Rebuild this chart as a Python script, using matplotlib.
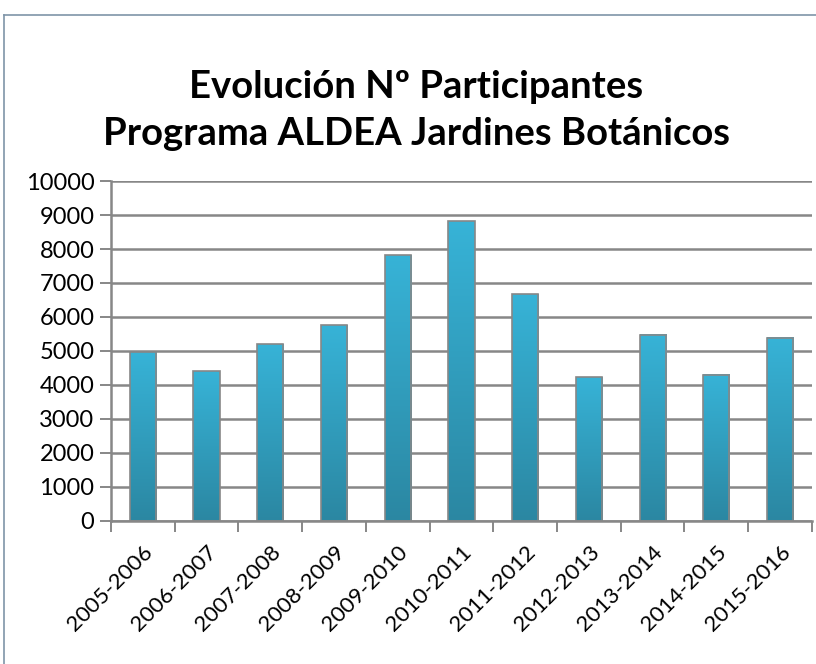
import matplotlib
matplotlib.use("Agg")
import matplotlib.pyplot as plt
import numpy as np
from matplotlib.colors import LinearSegmentedColormap
from matplotlib.lines import Line2D

plt.rcParams["font.family"] = ["Lato", "DejaVu Sans"]

seasons = ["2005-2006", "2006-2007", "2007-2008", "2008-2009", "2009-2010", "2010-2011",
           "2011-2012", "2012-2013", "2013-2014", "2014-2015", "2015-2016"]
participants = [4960, 4400, 5200, 5760, 7810, 8810, 6670, 4230, 5480, 4300, 5390]
y_ticks = list(range(0, 10001, 1000))

GRID = "#878787"
cmap = LinearSegmentedColormap.from_list("bar", ["#2b87a2", "#37b3d7"])

fig = plt.figure(figsize=(8.16, 6.64), dpi=100)
ax = fig.add_axes([0.136, 0.2154, 0.859, 0.512])

x = np.arange(len(seasons))
bars = ax.bar(x, participants, width=0.41, color="none", edgecolor=GRID, linewidth=1.2, zorder=3)

# vertical gradient for each bar
grad = np.linspace(0, 1, 256).reshape(-1, 1)
for b in bars:
    x0, w, h = b.get_x(), b.get_width(), b.get_height()
    ax.imshow(grad, cmap=cmap, aspect="auto", origin="lower",
              extent=[x0, x0 + w, 0, h], zorder=2)

ax.set_xlim(-0.5, len(seasons) - 0.5)
ax.set_ylim(0, 10000)
ax.set_yticks(y_ticks)
ax.set_yticklabels([str(v) for v in y_ticks], fontsize=17)
ax.set_xticks(x)
ax.set_xticklabels(seasons, rotation=45, ha="right", rotation_mode="anchor", fontsize=16)
ax.tick_params(axis="x", length=0, pad=15)
ax.set_xticks(np.arange(-0.5, len(seasons)), minor=True)
ax.tick_params(axis="x", which="minor", length=8, width=1.4, color=GRID)
ax.tick_params(axis="y", length=8, width=1.4, color=GRID, pad=4)

ax.yaxis.grid(True, color=GRID, linewidth=1.8, zorder=1)
ax.set_axisbelow(True)
for s in ["top", "right"]:
    ax.spines[s].set_visible(False)
for s in ["left", "bottom"]:
    ax.spines[s].set_color(GRID)
    ax.spines[s].set_linewidth(1.8)

fig.text(0.51, 0.834, "Evolución Nº Participantes\nPrograma ALDEA Jardines Botánicos",
         ha="center", va="center", fontsize=27.5, fontweight="bold", linespacing=1.45)

# outer chart frame
fig.add_artist(Line2D([4 / 816, 4 / 816], [0, 1 - 15 / 664], color="#7f95a8", linewidth=1.2))
fig.add_artist(Line2D([4 / 816, 1], [1 - 15 / 664, 1 - 15 / 664], color="#7f95a8", linewidth=1.2))

fig.savefig("out.png", dpi=100)
